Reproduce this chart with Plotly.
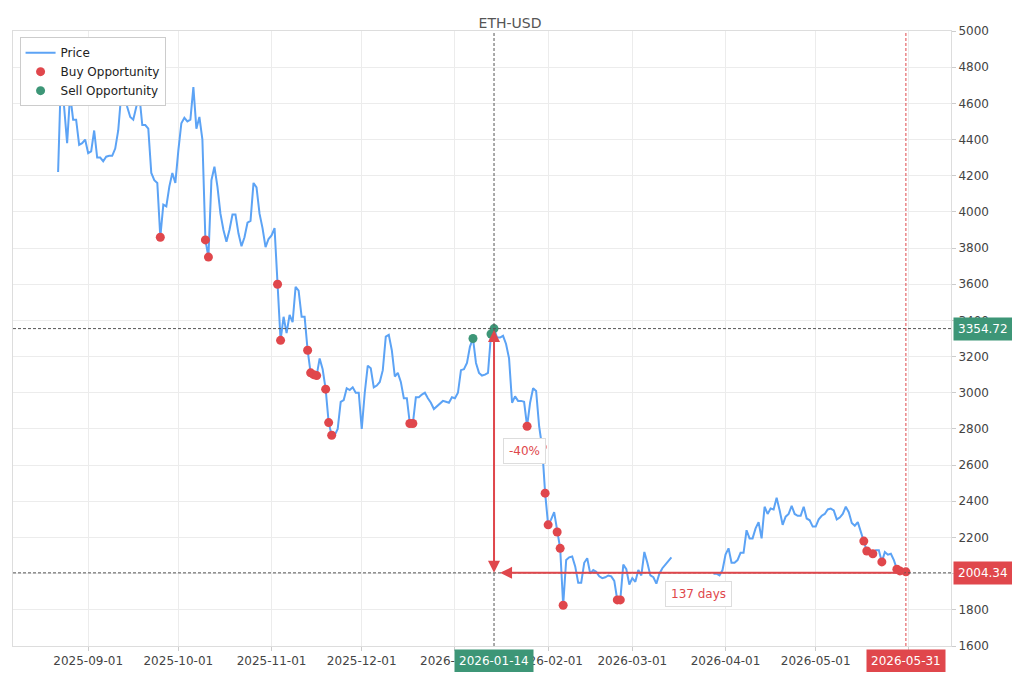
import pandas as pd
import plotly.graph_objects as go

# daily close, starting 2025-08-22; None = missing days
start_date = "2025-08-22"
prices = [
    4220, 4780, 4580, 4380, 4650, 4510, 4510, 4370, 4380, 4400,
    4325, 4335, 4450, 4300, 4300, 4280, 4305, 4310, 4310, 4350,
    4450, 4650, 4700, 4580, 4525, 4510, 4580, 4650, 4480, 4480,
    4460, 4215, 4175, 4160, 3860, 4040, 4030, 4140, 4215, 4160,
    4340, 4490, 4520, 4500, 4510, 4690, 4460, 4525, 4400, 3845,
    3750, 4175, 4250, 4140, 3990, 3900, 3835, 3900, 3985, 3985,
    3880, 3810, 3860, 3940, 3950, 4160, 4135, 3990, 3910, 3805,
    3850, 3870, 3910, 3600, 3290, 3420, 3330, 3430, 3390, 3585,
    3565, 3420, 3420, 3235, 3110, 3100, 3095, 3190, 3130, 3020,
    2835, 2765, 2765, 2800, 2950, 2960, 3025, 3015, 3030, 3000,
    3000, 2800, 3000, 3150, 3135, 3030, 3040, 3060, 3125, 3310,
    3320, 3235, 3090, 3110, 3060, 2970, 2970, 2830, 2830, 2975,
    2975, 2990, 3000, 2970, 2945, 2910, 2925, 2945, 2955, 2950,
    2945, 2975, 2970, 3000, 3125, 3130, 3165, 3255, 3300, 3165,
    3110, 3095, 3100, 3110, 3325, 3354.72, 3305, 3305, 3315, 3270,
    3190, 2945, 2980, 2955, 2955, 2950, 2815, 2945, 3025, 3010,
    2815, 2700, 2445, 2270, 2300, 2340, 2230, 2140, 1825, 2075,
    2090, 2095, 2040, 1950, 1950, 2060, 2085, 2000, 2020, 2010,
    1985, 1975, 1980, 1990, 1985, 1960, 1855, 1855, 2050, 2025,
    1940, 1975, 1955, 2020, 1990, 2120, 2060, 1990, 1980, 1945,
    2000, 2030, 2050, 2070, 2090, None, None, None, None, None,
    None, None, None, None, None, None, None, None, 2000, 2000,
    1990, 2020, 2105, 2140, 2060, 2060, 2075, 2115, 2115, 2240,
    2195, 2195, 2250, 2285, 2195, 2370, 2330, 2360, 2355, 2420,
    2350, 2270, 2315, 2330, 2375, 2330, 2320, 2320, 2370, 2305,
    2295, 2260, 2260, 2300, 2320, 2330, 2355, 2360, 2350, 2300,
    2310, 2330, 2370, 2340, 2280, 2265, 2285, 2235, 2180, 2125,
    2130, 2110, 2130, 2130, 2065, 2120, 2105, 2110, 2075, 2025,
    2015, 2020, 2010, 2004.34,
]
buy_dates = [
    "2025-09-25", "2025-10-10", "2025-10-11", "2025-11-03", "2025-11-04",
    "2025-11-13", "2025-11-14", "2025-11-15", "2025-11-16", "2025-11-19",
    "2025-11-20", "2025-11-21", "2025-12-17", "2025-12-18", "2026-01-25",
    "2026-01-30", "2026-01-31", "2026-02-01", "2026-02-04", "2026-02-05",
    "2026-02-06", "2026-02-24", "2026-02-25", "2026-05-17", "2026-05-18",
    "2026-05-20", "2026-05-23", "2026-05-28", "2026-05-29", "2026-05-31",
]
sell_dates = ["2026-01-07", "2026-01-13", "2026-01-14"]
peak_date, peak_price = "2026-01-14", 3354.72
last_date, last_price = "2026-05-31", 2004.34
drop_label = "-40%"
days_label = "137 days"

RED = "#e0474c"
GREEN = "#3d9677"

df = pd.DataFrame({"date": pd.date_range(start_date, periods=len(prices)), "price": prices})
s = df.set_index("date")["price"]
buy_y = [s.get(pd.Timestamp(d), last_price) for d in buy_dates]
sell_y = [s[pd.Timestamp(d)] for d in sell_dates]

fig = go.Figure()
fig.add_trace(go.Scatter(x=df["date"], y=df["price"], mode="lines", name="Price",
                         line=dict(color="#5ca3f5", width=2), connectgaps=False))
fig.add_trace(go.Scatter(x=buy_dates, y=buy_y, mode="markers", name="Buy Opportunity",
                         marker=dict(color=RED, size=9)))
fig.add_trace(go.Scatter(x=sell_dates, y=sell_y, mode="markers", name="Sell Opportunity",
                         marker=dict(color=GREEN, size=9)))

# reference lines
fig.add_hline(y=peak_price, line=dict(color="#555", width=1, dash="3px,2px"))
fig.add_hline(y=last_price, line=dict(color="#555", width=1, dash="3px,2px"))
fig.add_vline(x=peak_date, line=dict(color="#555", width=1, dash="3px,2px"))
fig.add_vline(x=last_date, line=dict(color=RED, width=1, dash="3px,2px"))

# drawdown arrows
fig.add_annotation(x=peak_date, y=last_price, ax=peak_date, ay=peak_price,
                   xref="x", yref="y", axref="x", ayref="y", text="",
                   showarrow=True, arrowhead=2, arrowside="end+start",
                   arrowsize=1.2, arrowwidth=2, arrowcolor=RED)
fig.add_annotation(x="2026-01-16", y=last_price, ax=last_date, ay=last_price,
                   xref="x", yref="y", axref="x", ayref="y", text="",
                   showarrow=True, arrowhead=2, arrowsize=1.2, arrowwidth=2, arrowcolor=RED)
fig.add_annotation(x="2026-01-24", y=2680, text=drop_label, showarrow=False,
                   font=dict(color=RED, size=12), bgcolor="white",
                   bordercolor="#dddddd", borderwidth=1, borderpad=5)
fig.add_annotation(x="2026-03-23", y=1890, text=days_label, showarrow=False,
                   font=dict(color=RED, size=12), bgcolor="white",
                   bordercolor="#dddddd", borderwidth=1, borderpad=5)

# value tags on the axes
for yv, col in [(peak_price, GREEN), (last_price, RED)]:
    fig.add_annotation(x=1, xref="paper", xanchor="left", xshift=2, y=yv,
                       text=f"{yv:.2f}", showarrow=False, font=dict(color="white", size=12),
                       bgcolor=col, borderpad=4)
for xv, col in [(peak_date, GREEN), (last_date, RED)]:
    fig.add_annotation(x=xv, y=0, yref="paper", yanchor="top", yshift=-3,
                       text=xv, showarrow=False, font=dict(color="white", size=12),
                       bgcolor=col, borderpad=4)

fig.update_layout(
    width=1004, height=664,
    title=dict(text="ETH-USD", x=0.5, xanchor="center", y=0.985, font=dict(size=14, color="#555")),
    font=dict(family="DejaVu Sans", size=12, color="#444"),
    plot_bgcolor="white", paper_bgcolor="white",
    margin=dict(l=5, r=61, t=23, b=26),
    showlegend=True,
    legend=dict(x=0.007, y=0.99, bgcolor="white", bordercolor="#cccccc", borderwidth=1,
                font=dict(size=12, color="#222")),
)
fig.update_xaxes(range=["2025-08-07", "2026-06-15"], showgrid=True, gridcolor="#ececec",
                 tickformat="%Y-%m-%d", dtick="M1", tick0="2025-09-01",
                 ticks="outside", ticklen=4, tickcolor="#ccc",
                 showline=True, linecolor="#ddd", mirror=True, zeroline=False)
fig.update_yaxes(range=[1600, 5000], side="right", dtick=200, showgrid=True,
                 gridcolor="#ececec", ticks="outside", ticklen=4, tickcolor="#ccc",
                 showline=True, linecolor="#ddd", mirror=True, zeroline=False)

fig.write_html("out.html")
